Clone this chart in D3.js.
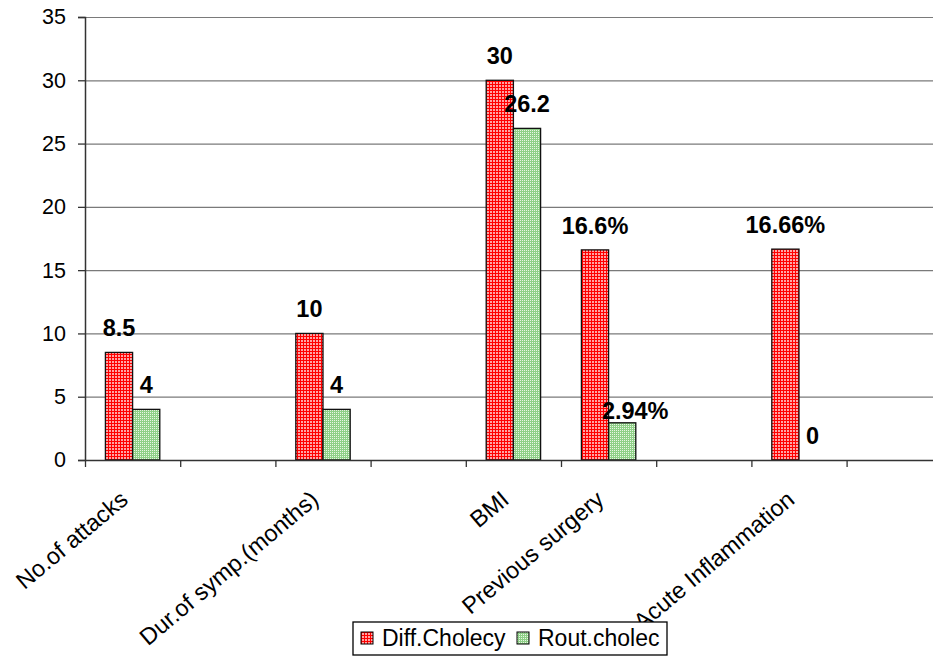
<!DOCTYPE html>
<html>
<head>
<meta charset="utf-8">
<script src="https://cdn.jsdelivr.net/npm/d3@7"></script>
<style>
  html, body { margin: 0; padding: 0; background: #fff; overflow: hidden; }
  svg { display: block; font-family: "Liberation Sans", Arial, sans-serif; }
</style>
</head>
<body>
<svg id="chart" width="933" height="656"></svg>
<script>
'use strict'

// chart data (empty slots kept as in the original sheet)
const categories = ['No.of attacks', '', 'Dur.of symp.(months)', '', 'BMI', 'Previous surgery', '', 'Acute Inflammation', '']
const seriesNames = ['Diff.Cholecy', 'Rout.cholec']
const diffValues = [8.5, null, 10, null, 30, 16.6, null, 16.66, null]
const routValues = [4, null, 4, null, 26.2, 2.94, null, 0, null]
const diffLabels = ['8.5', '', '10', '', '30', '16.6%', '', '16.66%', '']
const routLabels = ['4', '', '4', '', '26.2', '2.94%', '', '0', '']
const yTicks = [0, 5, 10, 15, 20, 25, 30, 35]

;(function (d3) {
  const svgSize = { width: 933, height: 656 }
  const margin = { top: 17, left: 85, bottom: 196 }
  const slot = 95.2
  const plotRight = margin.left + slot * categories.length
  const plotBottom = svgSize.height - margin.bottom

  const tickFont = 21.5
  const labelFont = 23.5
  const catFont = 23.5

  const svg = d3.select('#chart')
  const defs = svg.append('defs')

  // red small grid pattern
  const pRed = defs.append('pattern').attr('id', 'pat0')
    .attr('patternUnits', 'userSpaceOnUse').attr('width', 3).attr('height', 3)
  pRed.append('rect').attr('width', 3).attr('height', 3).attr('fill', '#ff0000')
  pRed.append('rect').attr('x', 1.2).attr('y', 1.2).attr('width', 1.6).attr('height', 1.6).attr('fill', '#ffffff')

  // green dotted pattern
  const pGreen = defs.append('pattern').attr('id', 'pat1')
    .attr('patternUnits', 'userSpaceOnUse').attr('width', 2).attr('height', 2)
  pGreen.append('rect').attr('width', 2).attr('height', 2).attr('fill', '#8ed087')
  pGreen.append('rect').attr('width', 1).attr('height', 1).attr('fill', '#e8f6e4')

  const x0 = d3.scaleBand()
    .domain(d3.range(categories.length))
    .range([margin.left, plotRight])
    .padding(0)

  const x1 = d3.scaleBand()
    .domain([0, 1])
    .range([0, x0.bandwidth()])
    .paddingInner(0)
    .paddingOuter(0.75)

  const y = d3.scaleLinear()
    .domain([0, 35])
    .range([plotBottom, margin.top])

  // gridlines
  svg.append('g')
    .attr('transform', `translate(${margin.left},0)`)
    .call(d3.axisLeft(y).tickValues(yTicks.slice(1)).tickSize(-(plotRight - margin.left)).tickFormat(''))
    .call(g => g.select('.domain').remove())
    .call(g => g.selectAll('line').attr('stroke', '#7a7a7a').attr('stroke-width', 1.2))

  // bars
  const series = [diffValues, routValues]
  const labels = [diffLabels, routLabels]
  series.forEach((vals, s) => {
    svg.append('g')
      .selectAll('rect')
      .data(vals.map((v, i) => ({ v, i })).filter(d => d.v !== null && d.v > 0))
      .join('rect')
      .attr('x', d => x0(d.i) + x1(s))
      .attr('y', d => y(d.v))
      .attr('width', x1.bandwidth())
      .attr('height', d => y(0) - y(d.v))
      .attr('fill', `url(#pat${s})`)
      .attr('stroke', '#111')
      .attr('stroke-width', 1.3)
  })

  // y axis
  svg.append('g')
    .attr('transform', `translate(${margin.left},0)`)
    .call(d3.axisLeft(y).tickValues(yTicks).tickSize(7).tickPadding(12))
    .call(g => g.select('.domain').attr('stroke', '#333').attr('stroke-width', 1.5))
    .call(g => g.selectAll('line').attr('stroke', '#333').attr('stroke-width', 1.3))
    .call(g => g.selectAll('text')
      .attr('font-size', tickFont)
      .attr('font-family', '"Liberation Sans", Arial, sans-serif')
      .attr('fill', '#000'))

  // x axis with slot boundary ticks
  const xb = d3.scaleLinear().domain([0, categories.length]).range([margin.left, plotRight])
  svg.append('g')
    .attr('transform', `translate(0,${plotBottom})`)
    .call(d3.axisBottom(xb).ticks(categories.length).tickSize(7).tickFormat('').tickSizeOuter(0))
    .call(g => g.select('.domain').attr('stroke', '#333').attr('stroke-width', 1.5))
    .call(g => g.selectAll('line').attr('stroke', '#333').attr('stroke-width', 1.3))

  // rotated category labels
  svg.append('g')
    .selectAll('text')
    .data(categories.map((c, i) => ({ c, i })).filter(d => d.c !== ''))
    .join('text')
    .attr('transform', d => `translate(${x0(d.i) + x0.bandwidth() / 2 - 3},${plotBottom + 42}) rotate(-40)`)
    .attr('text-anchor', 'end')
    .attr('font-size', catFont)
    .attr('fill', '#000')
    .text(d => d.c)

  // value labels
  const nudge = { '2.94%': [13, 12] }
  series.forEach((vals, s) => {
    svg.append('g')
      .selectAll('text')
      .data(vals.map((v, i) => ({ v, i, t: labels[s][i] })).filter(d => d.v !== null))
      .join('text')
      .attr('x', d => x0(d.i) + x1(s) + x1.bandwidth() / 2 + (nudge[d.t] ? nudge[d.t][0] : 0))
      .attr('y', d => y(d.v) - 16 + (nudge[d.t] ? nudge[d.t][1] : 0))
      .attr('text-anchor', 'middle')
      .attr('font-size', labelFont)
      .attr('font-weight', 'bold')
      .attr('fill', '#000')
      .text(d => d.t)
  })

  // legend
  const legend = svg.append('g').attr('transform', 'translate(353,622)')
  legend.append('rect')
    .attr('width', 314).attr('height', 33)
    .attr('fill', '#fff').attr('stroke', '#000').attr('stroke-width', 1.3)
  const legX = [8, 164]
  seriesNames.forEach((name, s) => {
    const item = legend.append('g').attr('transform', `translate(${legX[s]},10)`)
    item.append('rect')
      .attr('width', 12).attr('height', 12)
      .attr('fill', `url(#pat${s})`).attr('stroke', '#000')
    item.append('text')
      .attr('x', 21).attr('y', 6).attr('dy', '0.36em')
      .attr('font-size', 23)
      .attr('fill', '#000')
      .text(name)
  })
})(d3)
</script>
</body>
</html>
